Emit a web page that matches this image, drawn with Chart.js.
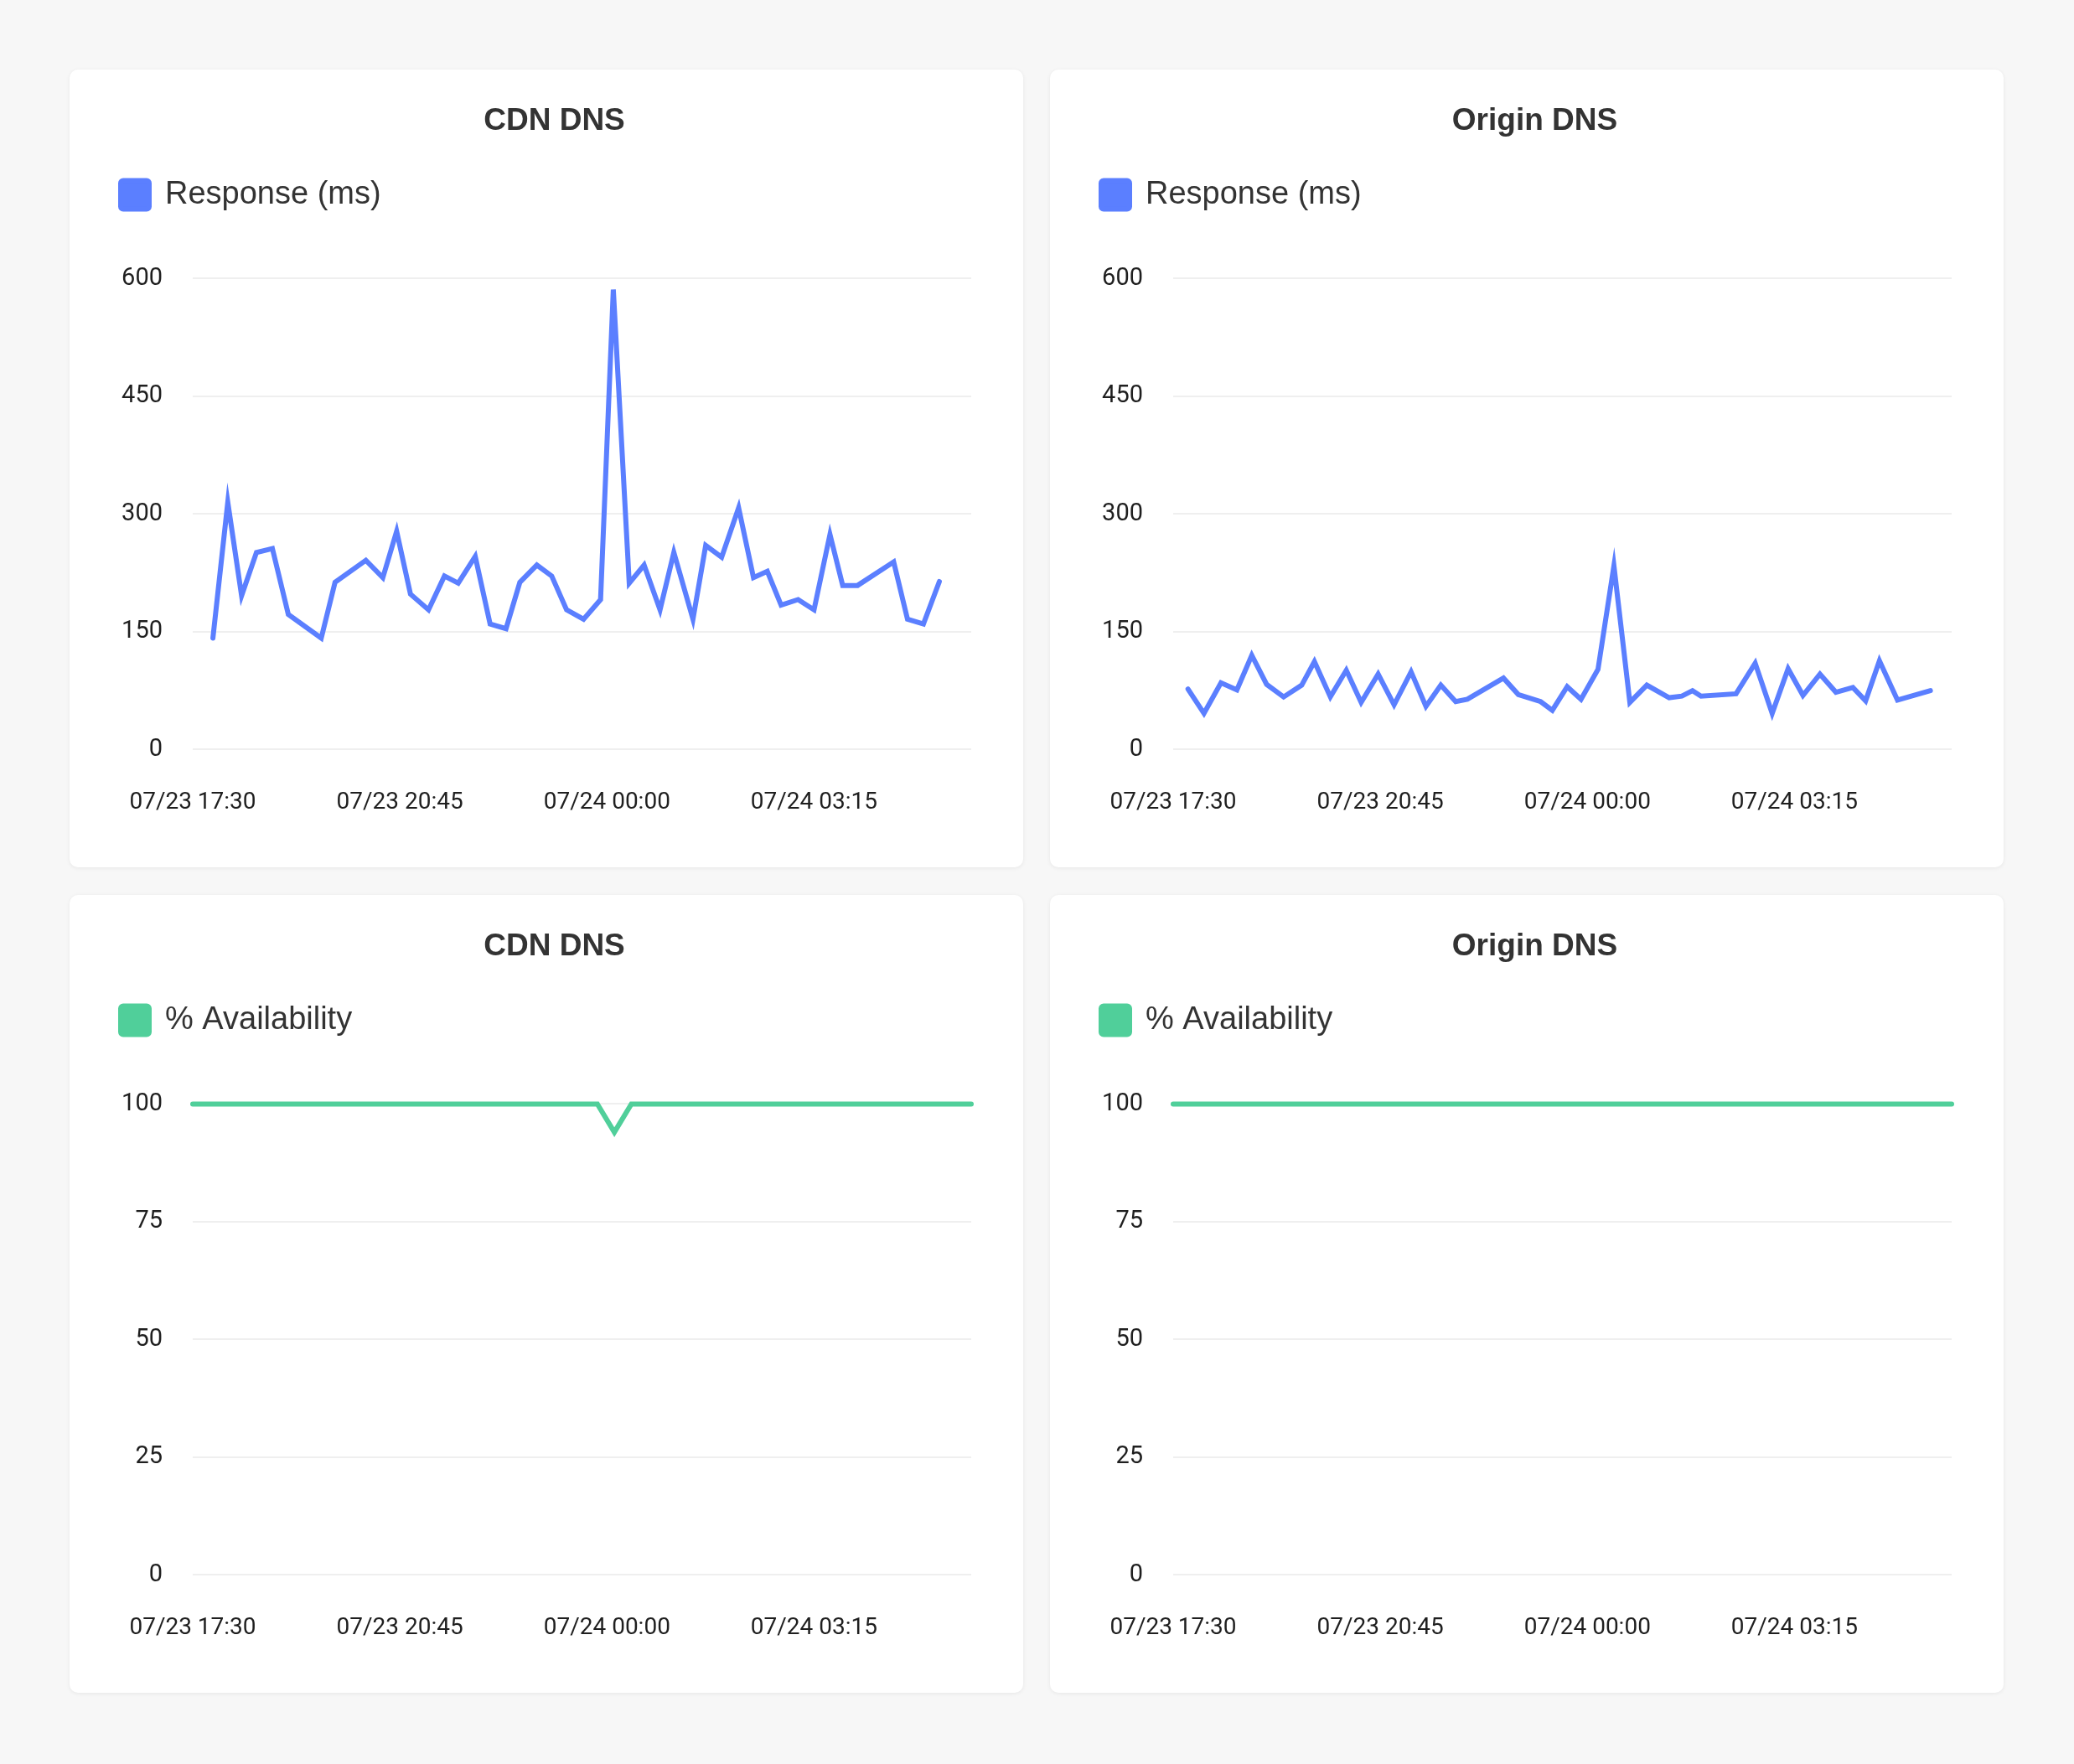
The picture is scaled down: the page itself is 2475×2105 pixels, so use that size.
<!DOCTYPE html>
<html>
<head>
<meta charset="utf-8">
<script src="https://cdn.jsdelivr.net/npm/chart.js@4.4.1/dist/chart.umd.min.js"></script>
<style>
  html, body { margin: 0; padding: 0; background: #f7f7f7; }
  body { width: 2475px; height: 2105px; position: relative; overflow: hidden; }
  .card {
    position: absolute; width: 1138px; height: 952px;
    background: #fff; border-radius: 10px;
    box-shadow: 0 1px 5px rgba(0,0,0,0.07);
  }
  .card canvas { display: block; }
</style>
</head>
<body>
<div class="card" style="left:83px;top:83px"><canvas id="cdnResp"></canvas></div>
<div class="card" style="left:1253px;top:83px"><canvas id="originResp"></canvas></div>
<div class="card" style="left:83px;top:1068px"><canvas id="cdnAvail"></canvas></div>
<div class="card" style="left:1253px;top:1068px"><canvas id="originAvail"></canvas></div>
<script>
// x axis: minutes after 07/23 17:30
const axisStart = '17:30';
const axisEndMin = 733;
const tickLabels = ['07/23 17:30', '07/23 20:45', '07/24 00:00', '07/24 03:15'];

const cdnRespTimes = ['17:49','18:03','18:16','18:30','18:45','19:00','19:31','19:44','20:13','20:29',
  '20:42','20:55','21:12','21:27','21:40','21:56','22:10','22:25','22:38','22:54',
  '23:08','23:22','23:38','23:54','00:06','00:21','00:35','00:50','01:03','01:21',
  '01:33','01:48','02:04','02:18','02:31','02:44','03:00','03:15','03:30','03:42',
  '03:56','04:30','04:43','04:58','05:13'];
const cdnRespMs = [142, 315, 196, 251, 256, 172, 142, 213, 241, 219,
  278, 198, 178, 221, 212, 246, 160, 154, 213, 235,
  221, 178, 166, 191, 586, 212, 235, 178, 251, 166,
  260, 245, 308, 219, 227, 184, 191, 178, 274, 209,
  209, 239, 166, 160, 214];

const originRespTimes = ['17:44','17:59','18:15','18:30','18:44','18:58','19:14','19:31','19:43','19:58',
  '20:13','20:27','20:43','20:58','21:14','21:28','21:42','21:56','22:07','22:41',
  '22:55','23:16','23:27','23:41','23:54','00:10','00:25','00:40','00:56','01:17',
  '01:29','01:39','01:47','02:20','02:38','02:54','03:09','03:23','03:39','03:54',
  '04:10','04:22','04:35','04:52','05:23'];
const originRespMs = [77, 46, 85, 76, 120, 83, 67, 82, 112, 67,
  101, 60, 96, 57, 99, 55, 82, 61, 64, 91,
  70, 61, 50, 80, 64, 102, 234, 60, 82, 66,
  68, 75, 68, 71, 110, 46, 103, 69, 96, 73,
  79, 62, 113, 63, 75];

const availTimes = ['17:30','18:30','19:30','20:30','21:30','22:30','23:30','23:51',
  '00:07','00:23','01:00','02:00','03:00','04:00','05:00','05:43'];
const cdnAvailPct = [100, 100, 100, 100, 100, 100, 100, 100, 94, 100, 100, 100, 100, 100, 100, 100];
const originAvailPct = [100, 100, 100, 100, 100, 100, 100, 100, 100, 100, 100, 100, 100, 100, 100, 100];

const BLUE  = '#5b7fff';
const GREEN = '#50cf9a';

function toMin(hhmm) {
  const [h, m] = hhmm.split(':').map(Number);
  const [h0, m0] = axisStart.split(':').map(Number);
  let d = (h * 60 + m) - (h0 * 60 + m0);
  if (d < 0) d += 24 * 60;
  return d;
}
const tickValues = tickLabels.map(l => toMin(l.split(' ')[1]));

// extra space under the legend
const legendGap = {
  id: 'legendGap',
  beforeInit(chart) {
    const fit = chart.legend.fit;
    chart.legend.fit = function () { fit.call(this); this.height += 71; };
  },
};

function makeChart(id, title, label, times, values, color, yMax, yStep) {
  const points = times.map((t, i) => ({ x: toMin(t), y: values[i] }));
  return new Chart(document.getElementById(id), {
    type: 'line',
    data: {
      datasets: [{
        label,
        data: points,
        borderColor: color,
        backgroundColor: color,
        borderWidth: 6,
        borderCapStyle: 'round',
        pointRadius: 0,
        pointHoverRadius: 0,
        tension: 0,
        fill: false,
        clip: false,
      }],
    },
    plugins: [legendGap],
    options: {
      responsive: true,
      maintainAspectRatio: false,
      animation: false,
      devicePixelRatio: 1,
      layout: { padding: { top: 20, left: 51, right: 32, bottom: 13 } },
      plugins: {
        title: {
          display: true,
          text: title,
          color: '#333333',
          font: { family: "'Liberation Sans', Arial, sans-serif", size: 37, weight: 'bold' },
          padding: { top: 20, bottom: 36 },
        },
        legend: {
          display: true,
          align: 'start',
          labels: {
            color: '#333333',
            font: { family: "'Liberation Sans', Arial, sans-serif", size: 38 },
            boxWidth: 34,
            boxHeight: 34,
            useBorderRadius: true,
            borderRadius: 3,
          },
        },
        tooltip: { enabled: false },
      },
      scales: {
        x: {
          type: 'linear',
          min: 0,
          max: axisEndMin,
          afterBuildTicks: scale => { scale.ticks = tickValues.map(v => ({ value: v })); },
          ticks: {
            autoSkip: false,
            maxRotation: 0,
            padding: 47,
            color: '#1f1f1f',
            font: { family: 'Roboto', size: 28 },
            callback: (v, i) => tickLabels[i],
          },
          grid: { display: false, drawTicks: false },
          border: { display: false },
        },
        y: {
          min: 0,
          max: yMax,
          afterFit: scale => { scale.width = 96; },
          ticks: {
            stepSize: yStep,
            padding: 36,
            color: '#1f1f1f',
            font: { family: 'Roboto', size: 29 },
          },
          grid: { color: '#efefef', lineWidth: 2, drawTicks: false },
          border: { display: false },
        },
        // empty right-hand gutter so the plot ends before the card edge
        gutter: {
          type: 'linear',
          axis: 'y',
          position: 'right',
          afterFit: scale => { scale.width = 30; },
          ticks: { display: false },
          grid: { display: false, drawTicks: false },
          border: { display: false },
        },
      },
    },
  });
}

makeChart('cdnResp', 'CDN DNS', 'Response (ms)', cdnRespTimes, cdnRespMs, BLUE, 600, 150);
makeChart('originResp', 'Origin DNS', 'Response (ms)', originRespTimes, originRespMs, BLUE, 600, 150);
makeChart('cdnAvail', 'CDN DNS', '% Availability', availTimes, cdnAvailPct, GREEN, 100, 25);
makeChart('originAvail', 'Origin DNS', '% Availability', availTimes, originAvailPct, GREEN, 100, 25);
</script>
</body>
</html>
